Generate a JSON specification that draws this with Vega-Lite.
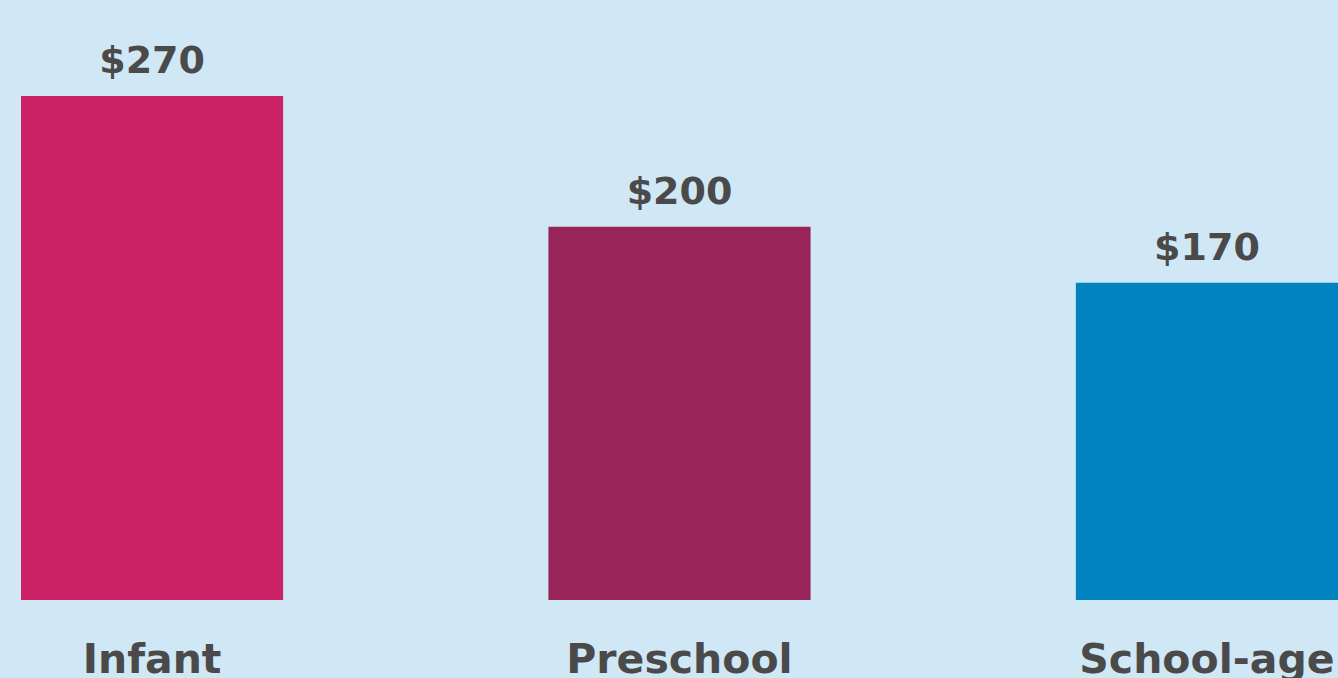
{
  "$schema": "https://vega.github.io/schema/vega-lite/v6.json",
  "autosize": {"type": "none"},
  "width": 1317,
  "height": 560,
  "padding": {"left": 21, "top": 40, "right": 0, "bottom": 78},
  "background": "#d0e7f5",
  "config": {"view": {"stroke": null}},
  "data": {"values": [
    {"category": "Infant", "cost": 270, "label": "$270"},
    {"category": "Preschool", "cost": 200, "label": "$200"},
    {"category": "School-age", "cost": 170, "label": "$170"}
  ]},
  "encoding": {
    "x": {"field": "category", "type": "nominal", "sort": null,
      "scale": {"paddingInner": 0.503, "paddingOuter": 0},
      "axis": {"title": null, "domain": false, "ticks": false, "labelAngle": 0,
        "labelFont": "DejaVu Sans", "labelFontWeight": "bold", "labelFontSize": 41,
        "labelColor": "#4a4a4a", "labelPadding": 72, "labelBaseline": "alphabetic", "labelLimit": 0}},
    "y": {"field": "cost", "type": "quantitative",
      "scale": {"domain": [0, 300], "nice": false},
      "axis": null}
  },
  "layer": [
    {"mark": {"type": "bar"},
      "encoding": {"color": {"field": "category", "type": "nominal", "legend": null,
        "scale": {"domain": ["Infant", "Preschool", "School-age"], "range": ["#cc2366", "#98245a", "#0083be"]}}}},
    {"mark": {"type": "text", "baseline": "alphabetic", "dy": -23, "font": "DejaVu Sans", "fontWeight": "bold", "fontSize": 38, "color": "#4a4a4a"},
      "encoding": {"text": {"field": "label"}}}
  ]
}
